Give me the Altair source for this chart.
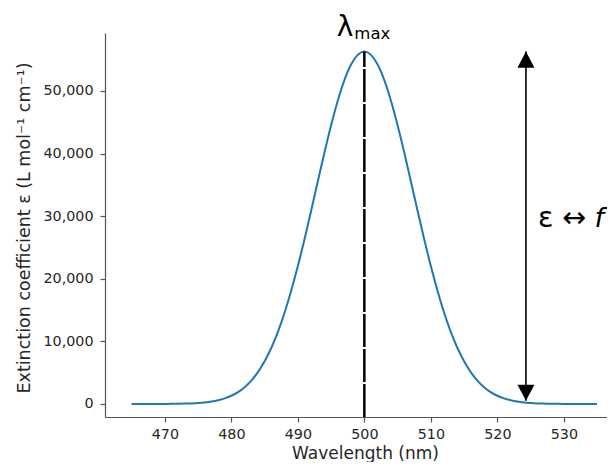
import altair as alt
import pandas as pd

# ---- data ----
wavelength = list(range(465, 536))
epsilon = [0, 1, 2, 4, 7, 12, 21, 36, 60, 99, 160, 253, 393, 600, 899, 1320, 1903, 2693,
           3739, 5097, 6817, 8951, 11531, 14580, 18091, 22032, 26330, 30884, 35549, 40163,
           44530, 48452, 51741, 54226, 55774, 56300,
           55774, 54226, 51741, 48452, 44530, 40163, 35549, 30884, 26330, 22032, 18091,
           14580, 11531, 8951, 6817, 5097, 3739, 2693, 1903, 1320, 899, 600, 393, 253, 160,
           99, 60, 36, 21, 12, 7, 4, 2, 1, 0]
x_ticks = [470, 480, 490, 500, 510, 520, 530]
y_ticks = [0, 10000, 20000, 30000, 40000, 50000]
x_domain = [461, 536.49]
y_domain = [-2077, 59265]
lambda_max = 500
peak = 56300
arrow_x = 524.3
arrow_bottom = 500

FONT = "DejaVu Sans"

df = pd.DataFrame({"wavelength": wavelength, "epsilon": epsilon})

xs = alt.Scale(domain=x_domain, nice=False, zero=False)
ys = alt.Scale(domain=y_domain, nice=False, zero=False)
x_axis = alt.Axis(values=x_ticks, format="d", grid=False, labelPadding=5,
                  titleX=260, titleY=41.5, titleBaseline="alphabetic", titleAlign="center")
y_axis = alt.Axis(values=y_ticks, format=",d", grid=False, labelPadding=7,
                  titleX=-75.5, titleY=194.5, titleAngle=270, titleBaseline="alphabetic",
                  titleAlign="center")
X_TITLE = "Wavelength (nm)"
Y_TITLE = "Extinction coefficient ε (L mol⁻¹ cm⁻¹)"


def xenc():
    return alt.X("wavelength:Q", scale=xs, axis=x_axis, title=X_TITLE)


def yenc():
    return alt.Y("epsilon:Q", scale=ys, axis=y_axis, title=Y_TITLE)


line = alt.Chart(df).mark_line(color="#1f77b4", strokeWidth=2, interpolate="monotone").encode(
    x=xenc(), y=yenc())

dash_df = pd.DataFrame({"wavelength": [lambda_max], "epsilon": [y_domain[0]], "e2": [peak]})
dash = alt.Chart(dash_df).mark_rule(color="black", strokeWidth=2.5, strokeDash=[33, 2]).encode(
    x=xenc(), y=yenc(), y2="e2:Q")

arrow_df = pd.DataFrame({"wavelength": [arrow_x], "epsilon": [arrow_bottom], "e2": [peak]})
arrow = alt.Chart(arrow_df).mark_rule(color="black", strokeWidth=1.6).encode(
    x=xenc(), y=yenc(), y2="e2:Q")

up_df = pd.DataFrame({"wavelength": [arrow_x], "epsilon": [peak]})
down_df = pd.DataFrame({"wavelength": [arrow_x], "epsilon": [arrow_bottom]})
head_up = alt.Chart(up_df).mark_point(shape="M0,0L-1,1.9L1,1.9Z", size=289, filled=True,
                                      color="black", opacity=1).encode(x=xenc(), y=yenc())
head_down = alt.Chart(down_df).mark_point(shape="M0,0L-1,-1.9L1,-1.9Z", size=289, filled=True,
                                          color="black", opacity=1).encode(x=xenc(), y=yenc())

# annotation texts (data coordinates)
lam_df = pd.DataFrame({"wavelength": [497.1], "epsilon": [58786], "t": ["λ"]})
lam = alt.Chart(lam_df).mark_text(fontSize=28, align="center", baseline="alphabetic",
                                  color="black", font=FONT).encode(
    x=xenc(), y=yenc(), text="t:N")
max_df = pd.DataFrame({"wavelength": [498.5], "epsilon": [58307], "t": ["max"]})
mx = alt.Chart(max_df).mark_text(fontSize=16.5, align="left", baseline="alphabetic",
                                 color="black", font=FONT).encode(
    x=xenc(), y=yenc(), text="t:N")

ann_y = 28275
e_df = pd.DataFrame({"wavelength": [526.1], "epsilon": [ann_y], "t": ["ε"]})
etxt = alt.Chart(e_df).mark_text(fontSize=28.5, align="left", baseline="alphabetic",
                                 color="black", font=FONT).encode(
    x=xenc(), y=yenc(), text="t:N")
arr_df = pd.DataFrame({"wavelength": [529.8], "epsilon": [ann_y], "t": ["↔"]})
arrtxt = alt.Chart(arr_df).mark_text(fontSize=28.5, align="left", baseline="alphabetic",
                                     color="black", font=FONT).encode(
    x=xenc(), y=yenc(), text="t:N")
f_df = pd.DataFrame({"wavelength": [534.6], "epsilon": [ann_y], "t": ["f"]})
ftxt = alt.Chart(f_df).mark_text(fontSize=27, align="left", baseline="alphabetic",
                                 fontStyle="italic", color="black", font=FONT).encode(
    x=xenc(), y=yenc(), text="t:N")

chart = alt.layer(line, dash, arrow, head_up, head_down, lam, mx, etxt, arrtxt, ftxt).properties(
    width=502, height=384,
    autosize=alt.AutoSizeParams(type="none"),
    padding={"left": 97, "top": 25, "right": 0, "bottom": 45},
).configure(font=FONT).configure_view(stroke=None).configure_axis(
    domainColor="#555555", tickColor="#555555", labelColor="#262626", titleColor="#262626",
    labelFontSize=14.3, titleFontSize=17, titleFontWeight="normal", tickSize=5,
    domainWidth=1.2, tickWidth=1.2, labelFont=FONT, titleFont=FONT,
).configure_axisY(titleFontSize=17.5)

chart.save("out.html", embed_options={"renderer": "svg", "actions": False})
